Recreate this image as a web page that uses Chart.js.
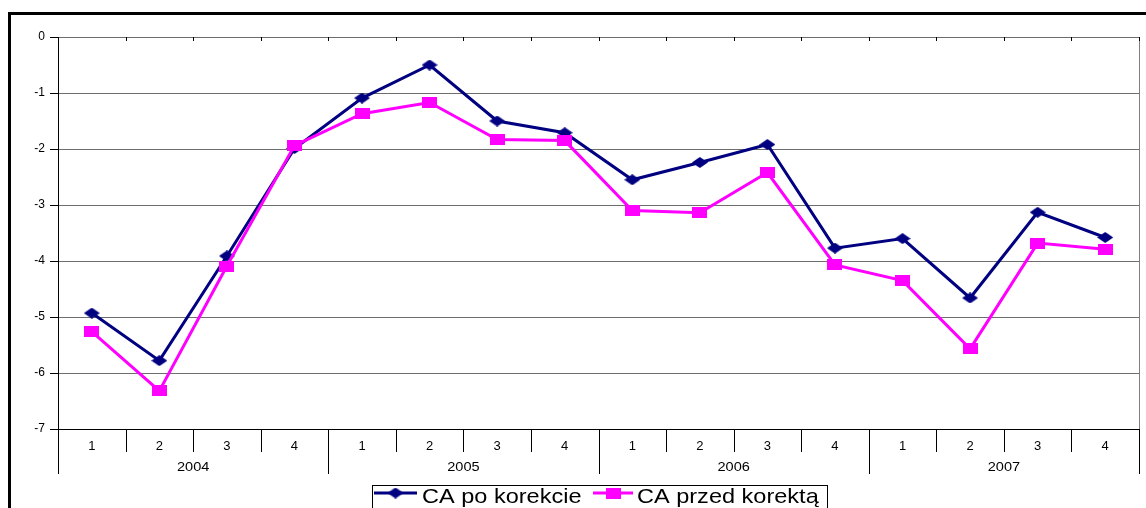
<!DOCTYPE html>
<html>
<head>
<meta charset="utf-8">
<script src="https://cdn.jsdelivr.net/npm/chart.js@4"></script>
<style>
  body { margin: 0; background: #fff; }
  #wrap { width: 1146px; height: 508px; }
</style>
</head>
<body>
<div id="wrap"><canvas id="chart" width="1146" height="508"></canvas></div>
<script>
// quarters and years
var quarters = ["1","2","3","4","1","2","3","4","1","2","3","4","1","2","3","4"];
var years = ["2004","2005","2006","2007"];

var caPo = [-4.93,-5.78,-3.91,-1.99,-1.09,-0.50,-1.50,-1.71,-2.55,-2.24,-1.92,-3.77,-3.60,-4.66,-3.13,-3.58];
var caPrzed = [-5.26,-6.32,-4.09,-1.94,-1.37,-1.17,-1.83,-1.85,-3.10,-3.14,-2.42,-4.07,-4.35,-5.57,-3.68,-3.79];

var navy = "#000080";
var pink = "#ff00ff";

// excel-ish markers, a bit wider than tall
function diamond(w, h, color) {
  var c = document.createElement("canvas");
  c.width = w; c.height = h;
  var g = c.getContext("2d");
  g.fillStyle = color;
  g.beginPath();
  g.moveTo(w / 2, 0); g.lineTo(w, h / 2); g.lineTo(w / 2, h); g.lineTo(0, h / 2);
  g.closePath();
  g.fill();
  return c;
}
function square(w, h, color) {
  var c = document.createElement("canvas");
  c.width = w; c.height = h;
  var g = c.getContext("2d");
  g.fillStyle = color;
  g.fillRect(0, 0, w, h);
  return c;
}
var navyMark = diamond(16, 11, navy);
var pinkMark = square(15, 11, pink);

// text in the original looks stretched sideways
function wideText(ctx, s, x, y, k) {
  ctx.save();
  ctx.translate(x, y);
  ctx.scale(k, 1);
  ctx.fillText(s, 0, 0);
  ctx.restore();
}

var extras = {
  id: "extras",
  beforeDraw: function (chart) {
    var ctx = chart.ctx;
    ctx.save();
    ctx.fillStyle = "#fff";
    ctx.fillRect(0, 0, chart.width, chart.height);
    // outer frame
    ctx.fillStyle = "#000";
    ctx.fillRect(8, 12, chart.width - 8, 3);
    ctx.fillRect(8, 12, 3, chart.height - 12);
    ctx.restore();
  },
  afterDraw: function (chart) {
    var ctx = chart.ctx;
    var xs = chart.scales.x;
    var a = chart.chartArea;
    var step = xs.getPixelForValue(1) - xs.getPixelForValue(0);
    ctx.save();
    // right edge of plot area
    ctx.strokeStyle = "#808080";
    ctx.lineWidth = 1;
    ctx.beginPath();
    ctx.moveTo(a.right + 0.5, a.top);
    ctx.lineTo(a.right + 0.5, a.bottom);
    ctx.stroke();
    // separators below axis and little ticks on the zero line
    ctx.strokeStyle = "#000";
    for (var i = 0; i <= quarters.length; i++) {
      var x = Math.round(xs.getPixelForValue(0) - step / 2 + i * step) + 0.5;
      var len = (i % 4 === 0) ? 45 : 23;
      ctx.beginPath();
      ctx.moveTo(x, a.bottom);
      ctx.lineTo(x, a.bottom + len);
      ctx.moveTo(x, a.top);
      ctx.lineTo(x, a.top + 4);
      ctx.stroke();
    }
    // year labels
    ctx.fillStyle = "#000";
    ctx.font = "13px Arial, 'Liberation Sans', sans-serif";
    ctx.textAlign = "center";
    ctx.textBaseline = "middle";
    years.forEach(function (y, k) {
      var cx = (xs.getPixelForValue(k * 4) + xs.getPixelForValue(k * 4 + 3)) / 2;
      wideText(ctx, y, cx, a.bottom + 38, 1.12);
    });
    // legend
    var ly = 493;
    ctx.fillStyle = "#fff";
    ctx.fillRect(372, 485, 455, 30);
    ctx.strokeStyle = "#000";
    ctx.strokeRect(372.5, 485.5, 455, 30);
    var items = [
      { x0: 374, x1: 417, col: navy, mark: navyMark, text: "CA po korekcie", tx: 422 },
      { x0: 593, x1: 633, col: pink, mark: pinkMark, text: "CA przed korektą", tx: 637 }
    ];
    ctx.font = "21px Arial, 'Liberation Sans', sans-serif";
    ctx.textAlign = "left";
    ctx.textBaseline = "alphabetic";
    items.forEach(function (it) {
      ctx.strokeStyle = it.col;
      ctx.lineWidth = 3;
      ctx.beginPath();
      ctx.moveTo(it.x0, ly);
      ctx.lineTo(it.x1, ly);
      ctx.stroke();
      var mx = (it.x0 + it.x1) / 2;
      ctx.drawImage(it.mark, mx - it.mark.width / 2, ly - it.mark.height / 2);
      ctx.fillStyle = "#000";
      wideText(ctx, it.text, it.tx, 503, 1.12);
    });
    ctx.restore();
  }
};

new Chart(document.getElementById("chart"), {
  type: "line",
  data: {
    labels: quarters,
    datasets: [
      {
        label: "CA po korekcie",
        data: caPo,
        borderColor: navy,
        backgroundColor: navy,
        borderWidth: 3,
        pointStyle: navyMark,
        tension: 0,
        order: 2
      },
      {
        label: "CA przed korektą",
        data: caPrzed,
        borderColor: pink,
        backgroundColor: pink,
        borderWidth: 3,
        pointStyle: pinkMark,
        tension: 0,
        order: 1
      }
    ]
  },
  options: {
    responsive: false,
    animation: false,
    layout: { padding: { top: 37, right: 5, left: 0, bottom: 0 } },
    plugins: {
      legend: { display: false },
      tooltip: { enabled: false }
    },
    scales: {
      x: {
        type: "category",
        offset: true,
        afterFit: function (s) { s.height = 79; },
        grid: { display: false, drawOnChartArea: false, drawTicks: false },
        border: { display: true, color: "#000", width: 1 },
        ticks: {
          color: "#000",
          padding: 10,
          maxRotation: 0,
          autoSkip: false,
          font: { family: "Arial, 'Liberation Sans', sans-serif", size: 13 }
        }
      },
      y: {
        min: -7,
        max: 0,
        afterFit: function (s) { s.width = 58; },
        grid: { color: "#6e6e6e", tickColor: "#000", tickLength: 8, lineWidth: 1 },
        border: { display: true, color: "#000", width: 1 },
        ticks: {
          stepSize: 1,
          color: "#000",
          padding: 5,
          font: { family: "Arial, 'Liberation Sans', sans-serif", size: 12 }
        }
      }
    }
  },
  plugins: [extras]
});
</script>
</body>
</html>
